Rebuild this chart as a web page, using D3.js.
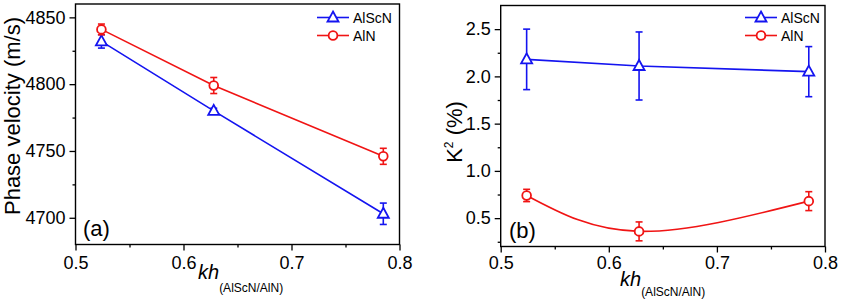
<!DOCTYPE html>
<html>
<head>
<meta charset="utf-8">
<script src="https://cdn.jsdelivr.net/npm/d3@7"></script>
<style>
  body { margin: 0; background: #fff; }
  svg text { font-family: Arial, "Liberation Sans", sans-serif; fill: #000; }
</style>
</head>
<body>
<svg id="chart" width="843" height="300"></svg>
<script>
// x positions (kh of the AlScN/AlN layer)
const kh = [0.524, 0.628, 0.785];

// (a) phase velocity, m/s
const velAlScN    = [4832, 4780, 4703];
const velAlScNErr = [5, 2, 8];
const velAlN      = [4841, 4799, 4746];
const velAlNErr   = [4, 6, 6];

// (b) K2, %
const k2AlScN    = [2.18, 2.11, 2.05];
const k2AlScNErr = [0.32, 0.36, 0.265];
const k2AlN      = [0.74, 0.36, 0.68];
const k2AlNErr   = [0.065, 0.10, 0.10];

const xTicks = [0.5, 0.6, 0.7, 0.8];
const xMinor = [0.55, 0.65, 0.75];
const velTicks = [4700, 4750, 4800, 4850];
const velMinor = [4725, 4775, 4825];
const k2Ticks = [0.5, 1.0, 1.5, 2.0, 2.5];
const k2Minor = [0.25, 0.75, 1.25, 1.75, 2.25];

const series = ['AlScN', 'AlN'];
const BLUE = '#1414f0', RED = '#f01414';

const svg = d3.select('#chart');

// Draws one panel: frame, axes, lines, markers, error bars, legend
function drawPanel(p) {
    const x = d3.scaleLinear().domain([0.5, 0.8]).range([p.left, p.right]);
    const y = d3.scaleLinear().domain(p.yDomain).range([p.bottom, p.top]);
    const g = svg.append('g');

    // minor + major ticks, outward
    g.append('g').attr('transform', 'translate(0,' + p.bottom + ')')
        .call(d3.axisBottom(x).tickValues(xMinor).tickSize(3).tickFormat(''));
    g.append('g').attr('transform', 'translate(0,' + p.bottom + ')')
        .call(d3.axisBottom(x).tickValues(xTicks).tickSize(6).tickPadding(p.xPad)
            .tickFormat(d3.format('.1f')));
    g.append('g').attr('transform', 'translate(' + p.left + ',0)')
        .call(d3.axisLeft(y).tickValues(p.yMinor).tickSize(3).tickFormat(''));
    g.append('g').attr('transform', 'translate(' + p.left + ',0)')
        .call(d3.axisLeft(y).tickValues(p.yTicks).tickSize(6).tickPadding(4)
            .tickFormat(p.yFormat));
    g.selectAll('.domain').remove();
    g.selectAll('.tick line').attr('stroke', '#000').attr('stroke-width', 1.3);
    g.selectAll('.tick text').attr('font-size', 18);

    g.append('rect')
        .attr('x', p.left).attr('y', p.top)
        .attr('width', p.right - p.left).attr('height', p.bottom - p.top)
        .attr('fill', 'none').attr('stroke', '#000').attr('stroke-width', 1.4);

    p.data.forEach(function(s) {
        const pts = kh.map((k, i) => ({x: k, y: s.values[i], e: s.err[i]}));
        const line = d3.line().x(d => x(d.x)).y(d => y(d.y))
            .curve(s.curve || d3.curveLinear);
        g.append('path').datum(pts)
            .attr('d', line).attr('fill', 'none')
            .attr('stroke', s.color).attr('stroke-width', 1.6);

        const eb = g.append('g').attr('stroke', s.color).attr('stroke-width', 1.6);
        pts.forEach(function(d) {
            eb.append('line').attr('x1', x(d.x)).attr('x2', x(d.x))
                .attr('y1', y(d.y - d.e)).attr('y2', y(d.y + d.e));
            [d.y - d.e, d.y + d.e].forEach(function(v) {
                eb.append('line').attr('x1', x(d.x) - 3.5).attr('x2', x(d.x) + 3.5)
                    .attr('y1', y(v)).attr('y2', y(v));
            });
        });

        g.selectAll(null).data(pts).enter()
            .append('path')
            .attr('transform', d => 'translate(' + x(d.x) + ',' + y(d.y) + ')')
            .attr('d', marker(s.name))
            .attr('fill', '#fff').attr('stroke', s.color).attr('stroke-width', 1.8);
    });

    // legend
    p.data.forEach(function(s, i) {
        const ly = p.legY + i * 18;
        g.append('line').attr('x1', p.legX).attr('x2', p.legX + 32)
            .attr('y1', ly).attr('y2', ly)
            .attr('stroke', s.color).attr('stroke-width', 1.6);
        g.append('path').attr('transform', 'translate(' + (p.legX + 16) + ',' + ly + ')')
            .attr('d', marker(s.name))
            .attr('fill', '#fff').attr('stroke', s.color).attr('stroke-width', 1.8);
        g.append('text').attr('x', p.legX + 36).attr('y', ly + 5)
            .attr('font-size', 14).text(s.name);
    });

    g.append('text').attr('x', p.labX).attr('y', p.labY)
        .attr('font-size', 22).text(p.label);

    // x title: kh with subscript
    const t = g.append('text').attr('x', p.khX).attr('y', p.khY).attr('font-size', 20);
    t.append('tspan').attr('font-style', 'italic').text('kh');
    t.append('tspan').attr('font-size', 12).attr('dy', p.subDy).text('(AlScN/AlN)');
    return g;
}

function marker(name) {
    if (name === 'AlScN') return 'M0,-6L5.5,4L-5.5,4Z';
    return d3.symbol().type(d3.symbolCircle).size(60)();
}

// (a)
const ga = drawPanel({
    left: 75.5, right: 399.5, top: 4, bottom: 244.5, xPad: 6,
    yDomain: [4680, 4860], yTicks: velTicks, yMinor: velMinor, yFormat: d3.format('d'),
    data: [
        {name: series[0], values: velAlScN, err: velAlScNErr, color: BLUE},
        {name: series[1], values: velAlN, err: velAlNErr, color: RED}
    ],
    legX: 317, legY: 17.5, label: '(a)', labX: 83, labY: 236,
    khX: 198, khY: 279, subDy: 13
});
ga.append('text')
    .attr('transform', 'translate(20,116) rotate(-90)')
    .attr('text-anchor', 'middle').attr('font-size', 22)
    .text('Phase velocity (m/s)');

// (b)
const gb = drawPanel({
    left: 500.7, right: 825, top: 5.5, bottom: 246.5, xPad: 4,
    yDomain: [0.2, 2.75], yTicks: k2Ticks, yMinor: k2Minor, yFormat: d3.format('.1f'),
    data: [
        {name: series[0], values: k2AlScN, err: k2AlScNErr, color: BLUE},
        {name: series[1], values: k2AlN, err: k2AlNErr, color: RED, curve: d3.curveNatural}
    ],
    legX: 745, legY: 17.5, label: '(b)', labX: 509, labY: 238,
    khX: 620, khY: 286, subDy: 10
});
const kt = gb.append('text')
    .attr('transform', 'translate(462,132) rotate(-90)')
    .attr('text-anchor', 'middle').attr('font-size', 22);
kt.append('tspan').text('K');
kt.append('tspan').attr('font-size', 12).attr('dy', -9).text('2');
kt.append('tspan').attr('dy', 9).text(' (%)');
</script>
</body>
</html>
